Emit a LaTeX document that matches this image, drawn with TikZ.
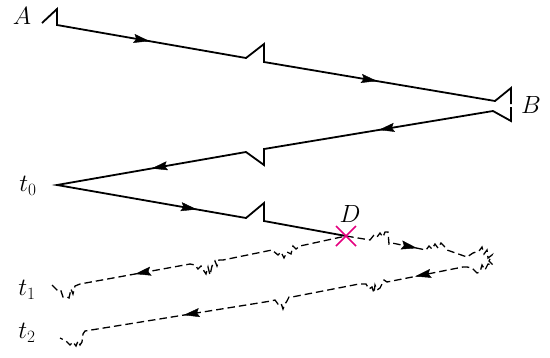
\documentclass[tikz,border=0pt]{standalone}
\usetikzlibrary{arrows.meta,decorations.markings}
\definecolor{eventmag}{RGB}{228,0,127}
\begin{document}
\begin{tikzpicture}[x=1pt,y=-1pt,
  world/.style={line width=1.8pt, line join=miter},
  ghost/.style={line width=1.3pt, dash pattern=on 7.5pt off 4pt},
  lab/.style={font=\fontsize{24}{28}\selectfont, inner sep=0pt},
  tipmark/.style={postaction={decorate}, decoration={markings,
      mark=at position #1 with {\arrow{Stealth[length=16pt,width=9pt,inset=2.5pt]}}}},
]
\useasboundingbox (0,0) rectangle (550,357);

% labels
\node[lab] (A)  at (22,16)  {$A$};
\node[lab] (B)  at (531,105) {$B$};
\node[lab] (t0) at (28,186) {$t_0$};
\node[lab] (t1) at (27,290) {$t_1$};
\node[lab] (t2) at (27,333) {$t_2$};
\node[lab] (Dl) at (350,214) {$D$};

% corner points of the solid world line
\coordinate (a0) at (42,23);
\coordinate (a1) at (57,9);
\coordinate (a2) at (57,25);
\coordinate (a3) at (246,58);
\coordinate (a4) at (264,44);
\coordinate (a5) at (264,62);
\coordinate (b0) at (495,101);
\coordinate (b1) at (511,88);
\coordinate (b2) at (511,104);
\coordinate (b3) at (511,107);
\coordinate (b4) at (511,121);
\coordinate (b5) at (493,111);
\coordinate (c1) at (264,149);
\coordinate (c2) at (264,165);
\coordinate (c3) at (246,152);
\coordinate (o)  at (57,185);
\coordinate (d1) at (246,218);
\coordinate (d2) at (264,203);
\coordinate (d3) at (264,221);
\coordinate (D)  at (346,236);

% solid world line A -> B -> t0 -> D
\draw[world] (a0) -- (a1) -- (a2) -- (a3) -- (a4) -- (a5) -- (b0) -- (b1) -- (b2);
\draw[world] (b3) -- (b4) -- (b5) -- (c1) -- (c2) -- (c3) -- (o) -- (d1) -- (d2) -- (d3) -- (D);

\path[tipmark=0.49] (a2) -- (a3);
\path[tipmark=0.49] (a5) -- (b0);
\path[tipmark=0.5]  (b5) -- (c1);
\path[tipmark=0.5]  (c3) -- (o);
\path[tipmark=0.74] (o) -- (d1);

% dashed jagged line through D
\draw[ghost] (52,285) -- (56,289) -- (59,292) -- (61,291) -- (63,297) -- (67,297) -- (69,298) -- (71,289) -- (73,294) -- (75,286) -- (80,284)
  -- (190,264) -- (195,265) -- (198,269) -- (201,266) -- (204,271) -- (206,274) -- (208,267) -- (210,275) -- (212,266) -- (215,261) -- (217,266) -- (219,260) -- (223,260)
  -- (272,250) -- (278,255) -- (281,252) -- (284,258) -- (287,252) -- (291,254) -- (293,246) -- (296,249) -- (300,246)
  -- (D) -- (370,240) -- (374,235) -- (377,237) -- (380,233) -- (383,237) -- (385,232) -- (388,232) -- (389,244) -- (392,243)
  -- (426,250) -- (429,246) -- (432,249) -- (435,244) -- (438,248) -- (441,243) -- (444,246) -- (447,250)
  -- (467,257) -- (473,253) -- (479,251) -- (482,247) -- (484,254) -- (487,250) -- (488,258) -- (492,255) -- (489,261) -- (493,265)
  -- (488,264) -- (485,270) -- (482,265) -- (480,272) -- (477,273) -- (472,268) -- (467,267) -- (463,267)
  -- (387,282) -- (384,280) -- (382,284) -- (380,288) -- (377,290) -- (375,285) -- (374,293) -- (372,287) -- (369,289) -- (366,284) -- (362,284) -- (359,284)
  -- (292,297) -- (289,297) -- (287,301) -- (285,304) -- (283,309) -- (281,303) -- (278,304) -- (275,300) -- (271,301)
  -- (85,331) -- (83,334) -- (82,342) -- (80,345) -- (78,341) -- (76,346) -- (73,342) -- (70,345) -- (66,341) -- (60,338);

\path[tipmark=0.5]  (190,264) -- (80,284);
\path[tipmark=0.74] (392,243) -- (426,250);
\path[tipmark=0.63] (463,267) -- (387,282);
\path[tipmark=0.47] (271,301) -- (85,331);

% event D
\draw[eventmag, line width=1.6pt] ([shift={(-10,-10)}]D) -- ([shift={(10,10)}]D)
  ([shift={(-10,10)}]D) -- ([shift={(10,-10)}]D);
\end{tikzpicture}
\end{document}
